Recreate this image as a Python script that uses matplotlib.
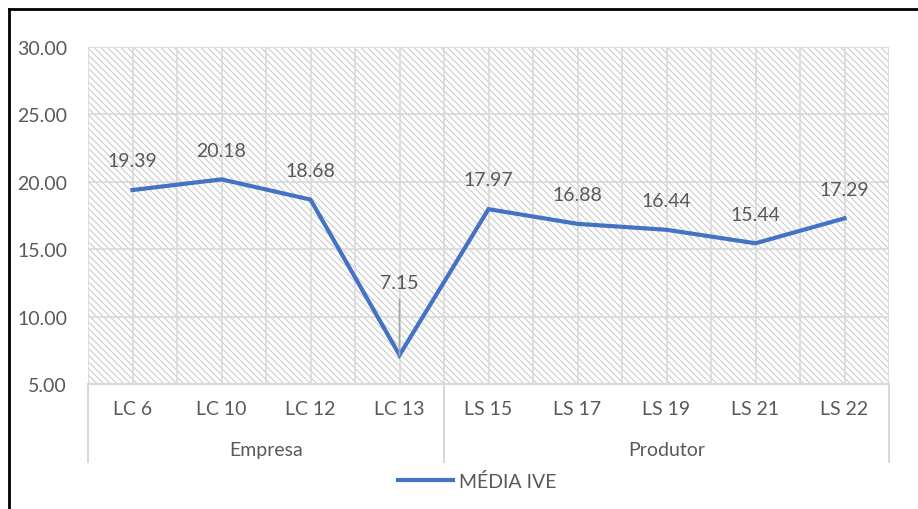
import matplotlib.pyplot as plt
from matplotlib.patches import Rectangle
from matplotlib.lines import Line2D
import matplotlib.transforms as mtransforms

categories = ["LC 6", "LC 10", "LC 12", "LC 13", "LS 15", "LS 17", "LS 19", "LS 21", "LS 22"]
groups = ["Empresa", "Produtor"]
group_sizes = [4, 5]
media_ive = [19.39, 20.18, 18.68, 7.15, 17.97, 16.88, 16.44, 15.44, 17.29]
y_ticks = [5, 10, 15, 20, 25, 30]
series_name = "MÉDIA IVE"

TEXT = "#595959"
GRID = "#D9D9D9"
BLUE = "#4472C4"
FS = 14

plt.rcParams['font.family'] = ['Lato', 'DejaVu Sans']
plt.rcParams['hatch.linewidth'] = 0.8

fig = plt.figure(figsize=(9.18, 5.10), dpi=100)
ax = fig.add_axes([88 / 918, 1 - 385 / 510, (889 - 88) / 918, (385 - 48) / 510])

n = len(categories)
x = list(range(n))
ax.set_xlim(-0.5, n - 0.5)
ax.set_ylim(5, 30)

# hatched plot area
ax.add_patch(Rectangle((0, 0), 1, 1, transform=ax.transAxes, facecolor="white",
                       edgecolor="#CCCCCC", linewidth=0, hatch="\\" * 5, zorder=0))

# gridlines (category centers and boundaries)
for i in range(2 * n + 1):
    ax.axvline(-0.5 + i * 0.5, color=GRID, lw=1.2, zorder=1)
for t in y_ticks:
    ax.axhline(t, color=GRID, lw=1.2, zorder=1)

ax.plot(x, media_ive, color=BLUE, lw=3, zorder=3, solid_joinstyle="miter")

# data labels
for xi, v in zip(x, media_ive):
    if v < 10:
        ax.annotate(f"{v:.2f}", (xi, v), xytext=(0, 52), textcoords="offset points",
                    ha="center", va="center", fontsize=FS, color=TEXT, zorder=4,
                    arrowprops=dict(arrowstyle="-", color="#A6A6A6", lw=1.2,
                                    shrinkA=4, shrinkB=0))
    else:
        ax.annotate(f"{v:.2f}", (xi, v), xytext=(0, 21), textcoords="offset points",
                    ha="center", va="center", fontsize=FS, color=TEXT, zorder=4)

for s in ax.spines.values():
    s.set_visible(False)
ax.set_xticks([])
ax.set_yticks(y_ticks)
ax.set_yticklabels([f"{t:.2f}" for t in y_ticks])
ax.tick_params(axis="y", length=0, pad=15, labelsize=FS, labelcolor=TEXT)

# multi-level category axis
trans = mtransforms.blended_transform_factory(ax.transData, ax.transAxes)
ax.plot([-0.5, n - 0.5], [0, 0], color=GRID, lw=1.5, transform=trans, clip_on=False, zorder=2)
for xi, c in zip(x, categories):
    ax.text(xi, -0.074, c, transform=trans, ha="center", va="center", fontsize=FS, color=TEXT)

start = -0.5
bottom = -(463 - 385) / 337
ax.plot([start, start], [0, bottom], color=GRID, lw=1.5, transform=trans, clip_on=False)
for g, size in zip(groups, group_sizes):
    end = start + size
    ax.plot([end, end], [0, bottom], color=GRID, lw=1.5, transform=trans, clip_on=False)
    ax.text((start + end) / 2, -0.193, g, transform=trans, ha="center", va="center",
            fontsize=FS, color=TEXT)
    start = end

# legend
handle = Line2D([], [], color=BLUE, lw=3)
leg = fig.legend([handle], [series_name], loc="center", bbox_to_anchor=(0.52, 0.055),
                 frameon=False, fontsize=FS, handlelength=2.8, handletextpad=0.3)
for t in leg.get_texts():
    t.set_color(TEXT)

# outer frame (top and left edges visible)
fig.add_artist(Line2D([9 / 918, 1], [1 - 10 / 510, 1 - 10 / 510], color="black", lw=2,
                      transform=fig.transFigure))
fig.add_artist(Line2D([9 / 918, 9 / 918], [0, 1 - 10 / 510], color="black", lw=2,
                      transform=fig.transFigure))

fig.savefig("out.png", dpi=100)
